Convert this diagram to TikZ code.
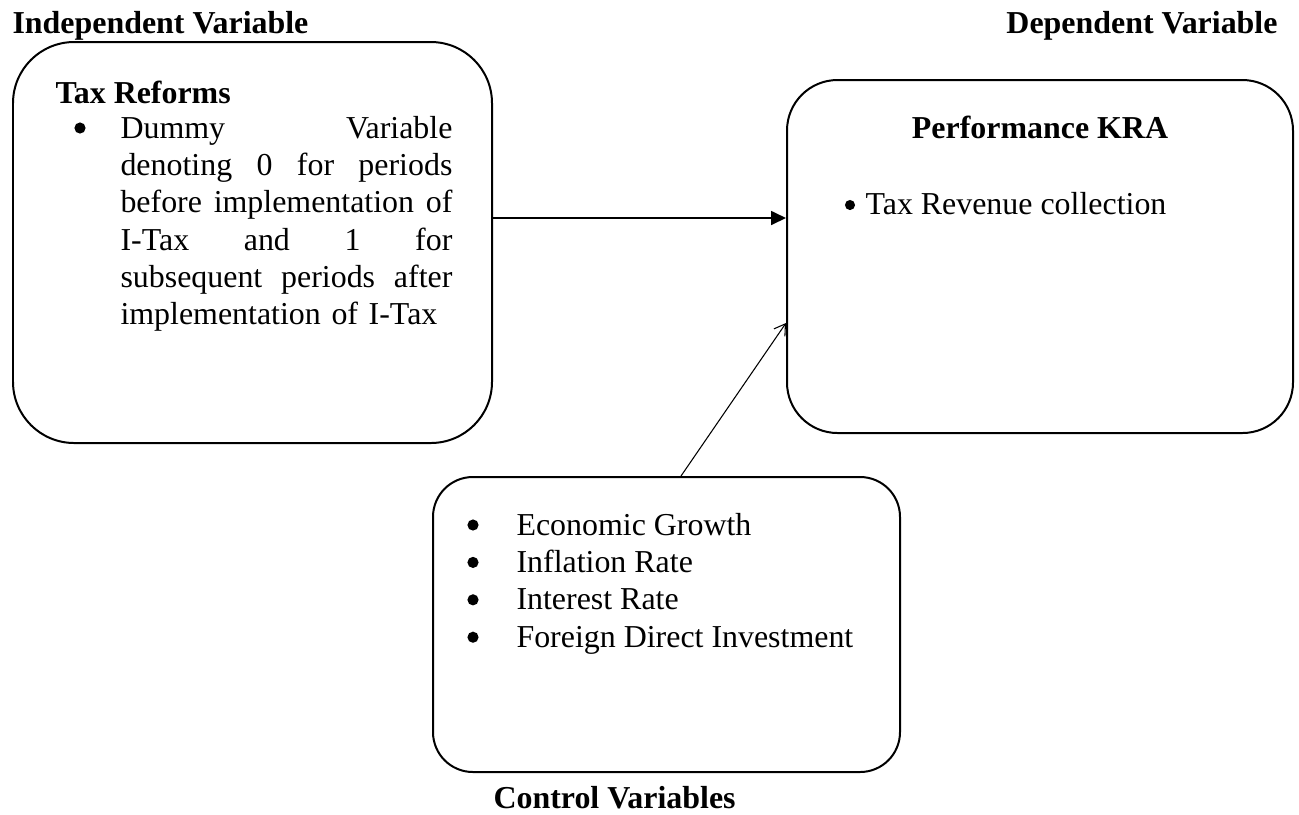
\documentclass[tikz,border=0pt]{standalone}
\usepackage{fontspec}
\setmainfont{Liberation Serif}
\usetikzlibrary{fit,arrows.meta}
\newcommand{\jline}[1]{\leavevmode\hbox to 124.8pt{#1}}

\begin{document}
\begin{tikzpicture}[x=0.376pt,y=-0.376pt,font=\fontsize{12}{14.06}\selectfont]%
  %[every node/.style={inner sep=0}]
  \tikzstyle{varbox}=[draw,line width=0.75pt,inner sep=0]
  \tikzstyle{heading}=[font=\fontsize{12}{14.06}\selectfont\bfseries,inner sep=0]
  \tikzstyle{item}=[inner sep=0,anchor=base west]
  \tikzstyle{dot}=[circle,fill,inner sep=0,minimum size=4.2pt]
  \useasboundingbox (0,0) rectangle (1299,814);
  % headings
  \node(indep)[heading,anchor=base west] at (12,33) {Independent Variable};
  \node(dep)[heading,anchor=base east] at (1278,33) {Dependent Variable};
  \node(ctrl)[heading,anchor=base west] at (493,808) {Control Variables};
  % boxes
  \node(reforms)[varbox,rounded corners=23pt,fit={(13,42) (492,443)}]{};
  \node(kra)[varbox,rounded corners=19pt,fit={(787,80) (1293,433)}]{};
  \node(control)[varbox,rounded corners=15pt,fit={(433,477) (900,772)}]{};
  % independent variable
  \node(taxref)[heading,anchor=base west] at (55,103) {Tax Reforms};
  \node(dotA)[dot] at (80,128) {};
  \node(dummy)[item,text width=124.8pt,align=left] at (120,138) {%
    \jline{Dummy\hfill Variable}\\
    \jline{denoting\hfill 0\hfill for\hfill periods}\\
    \jline{before\hfill implementation\hfill of}\\
    \jline{I-Tax\hfill and\hfill 1\hfill for}\\
    \jline{subsequent\hfill periods\hfill after}\\
    implementation of I-Tax};
  % dependent variable
  \node(perf)[heading,anchor=base] at (1040,138) {Performance KRA};
  \node(dotB)[dot,minimum size=3.8pt] at (850,205) {};
  \node(revenue)[item] at (865,214) {Tax Revenue collection};
  % control variables
  \node(dotC1)[dot] at (473,525) {};
  \node(dotC2)[dot] at (473,562.4) {};
  \node(dotC3)[dot] at (473,599.8) {};
  \node(dotC4)[dot] at (473,637.2) {};
  \node(growth)[item] at (516,535) {Economic Growth};
  \node(inflation)[item] at (516,572.4) {Inflation Rate};
  \node(interest)[item] at (516,609.8) {Interest Rate};
  \node(fdi)[item] at (516,647.2) {Foreign Direct Investment};
  % links
  \draw[line width=0.75pt,-{Triangle[length=5.6pt,width=5.2pt]}]
    (reforms.east |- 0,218) -- (kra.west |- 0,218);
  \draw[line width=0.4pt,-{Straight Barb[length=4pt,width=5pt]}]
    (control.north -| 681,0) -- (kra.west |- 0,323);
\end{tikzpicture}
\end{document}
